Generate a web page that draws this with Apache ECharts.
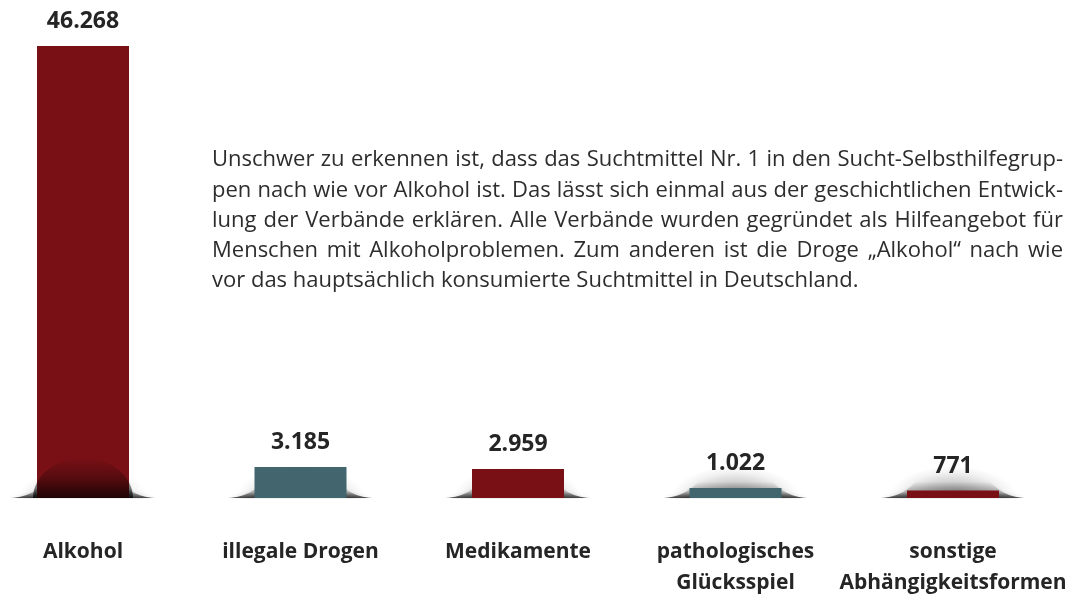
<!DOCTYPE html>
<html>
<head>
<meta charset="utf-8">
<script src="https://cdn.jsdelivr.net/npm/echarts@6/dist/echarts.min.js"></script>
<style>
html,body{margin:0;padding:0;background:#fff;overflow:hidden;}
#chart{width:1073px;height:599px;}
</style>
</head>
<body>
<div id="chart"></div>
<script>
// ---- data ----
const categories = ['Alkohol', 'illegale Drogen', 'Medikamente', 'pathologisches\nGlücksspiel', 'sonstige\nAbhängigkeitsformen'];
const values = [46268, 3185, 2959, 1022, 771];
const noteLines = [
  'Unschwer zu erkennen ist, dass das Suchtmittel Nr. 1 in den Sucht-Selbsthilfegrup-',
  'pen nach wie vor Alkohol ist. Das lässt sich einmal aus der geschichtlichen Entwick-',
  'lung der Verbände erklären. Alle Verbände wurden gegründet als Hilfeangebot für',
  'Menschen mit Alkoholproblemen. Zum anderen ist die Droge „Alkohol“ nach wie',
  'vor das hauptsächlich konsumierte Suchtmittel in Deutschland.'
];

// ---- style ----
const palette = ['#781015', '#43666e'];
const FONT = '"Open Sans", "DejaVu Sans", sans-serif';
const TEXT = '#252525';

function fmt(v) { return String(v).replace(/\B(?=(\d{3})+(?!\d))/g, '.'); }

const chart = echarts.init(document.getElementById('chart'), null, {renderer: 'canvas'});

// justified paragraph built as word text elements
const PARA_LEFT = 212, PARA_RIGHT = 1063, PARA_TOP = 160, PARA_LH = 30.3, PARA_FS = 22;
const mctx = document.createElement('canvas').getContext('2d');
mctx.font = PARA_FS + 'px ' + FONT;
const paraEls = [];
noteLines.forEach((line, i) => {
  const y = PARA_TOP + i * PARA_LH;
  const last = i === noteLines.length - 1;
  const words = line.split(' ');
  const widths = words.map(w => mctx.measureText(w).width);
  const sum = widths.reduce((a, b) => a + b, 0);
  const space = mctx.measureText(' ').width;
  const gap = last ? space : (PARA_RIGHT - PARA_LEFT - sum) / (words.length - 1);
  let x = PARA_LEFT;
  words.forEach((w, k) => {
    paraEls.push({
      type: 'text', x: x, y: y, silent: true,
      style: {text: w, fontSize: PARA_FS, fontFamily: FONT, fill: '#2d2d2d', verticalAlign: 'middle', align: 'left'}
    });
    x += widths[k] + gap;
  });
});

const pairData = categories.map((c, i) => [i, values[i]]);

function bellPath(hw, H) {
  return 'M' + (-hw) + ' 0 ' +
    'C' + (-hw * 0.45) + ' 0 ' + (-hw * 0.55) + ' ' + (-H) + ' 0 ' + (-H) + ' ' +
    'C' + (hw * 0.55) + ' ' + (-H) + ' ' + (hw * 0.45) + ' 0 ' + hw + ' 0 Z';
}

function renderShadow(params, api) {
  const base = api.coord([api.value(0), 0]);
  const band = api.size([1, 0])[0];
  const hw = band * 0.35;
  const H = 30;
  const DOME = 32;
  return {
    type: 'group',
    x: base[0], y: base[1],
    children: [
      {
        type: 'sector',
        scaleX: (hw * 0.85) / DOME, scaleY: 1,
        shape: {cx: 0, cy: 0, r0: 0, r: DOME, startAngle: Math.PI, endAngle: Math.PI * 2},
        style: {
          fill: new echarts.graphic.RadialGradient(0, 0, DOME, [
            {offset: 0, color: 'rgba(0,0,0,0.4)'},
            {offset: 0.5, color: 'rgba(0,0,0,0.18)'},
            {offset: 0.8, color: 'rgba(0,0,0,0.05)'},
            {offset: 1, color: 'rgba(0,0,0,0)'}
          ], true)
        },
        silent: true
      },
      {
        type: 'path',
        shape: {pathData: bellPath(hw, H), layout: 'center', x: -hw, y: -H, width: hw * 2, height: H},
        style: {
          fill: new echarts.graphic.LinearGradient(0, 0, 0, 1, [
            {offset: 0, color: 'rgba(0,0,0,0)'},
            {offset: 0.45, color: 'rgba(0,0,0,0)'},
            {offset: 0.8, color: 'rgba(0,0,0,0.22)'},
            {offset: 1, color: 'rgba(0,0,0,0.72)'}
          ]),
          shadowBlur: 4,
          shadowColor: 'rgba(0,0,0,0.4)'
        },
        silent: true
      },
      {
        type: 'rect',
        shape: {x: -hw - 12, y: 0.5, width: hw * 2 + 24, height: 10},
        style: {fill: '#ffffff'},
        silent: true
      }
    ]
  };
}
function renderOverlay(params, api) {
  const base = api.coord([api.value(0), 0]);
  const top = api.coord([api.value(0), api.value(1)]);
  if (base[1] - top[1] < 60) return null;
  const bw = 92 / 2;
  const h = 40;
  return {
    type: 'sector',
    x: base[0], y: base[1],
    scaleX: (bw + 4) / h, scaleY: 1,
    shape: {cx: 0, cy: 0, r0: 0, r: h, startAngle: Math.PI, endAngle: Math.PI * 2},
    style: {
      fill: new echarts.graphic.LinearGradient(0, 0, 0, 1, [
        {offset: 0, color: 'rgba(0,0,0,0)'},
        {offset: 0.5, color: 'rgba(0,0,0,0.28)'},
        {offset: 1, color: 'rgba(0,0,0,0.75)'}
      ])
    },
    silent: true
  };
}

chart.setOption({
  animation: false,
  backgroundColor: '#ffffff',
  grid: {left: 83, right: 120, top: 46, bottom: 97.5, containLabel: false},
  xAxis: {
    type: 'category',
    data: categories,
    boundaryGap: false,
    axisLine: {show: false},
    axisTick: {show: false},
    splitLine: {show: false},
    axisLabel: {
      interval: 0, margin: 39,
      fontFamily: FONT, fontSize: 21, fontWeight: 'bold', color: TEXT, lineHeight: 31
    }
  },
  yAxis: {type: 'value', min: 0, max: 46268, show: false, splitLine: {show: false}},
  series: [
    {
      type: 'custom', z: 1, renderItem: renderShadow, data: pairData,
      encode: {x: 0, y: 1}, clip: false
    },
    {
      type: 'bar', z: 2, data: values, barWidth: 92,
      itemStyle: {color: p => palette[p.dataIndex % 2]},
      label: {
        show: true, position: 'top', distance: 13,
        formatter: p => fmt(p.value),
        fontFamily: FONT, fontSize: 23, fontWeight: 'bold', color: TEXT
      }
    },
    {
      type: 'custom', z: 3, renderItem: renderOverlay, data: pairData,
      encode: {x: 0, y: 1}, clip: false
    }
  ],
  graphic: paraEls
});
</script>
</body>
</html>
